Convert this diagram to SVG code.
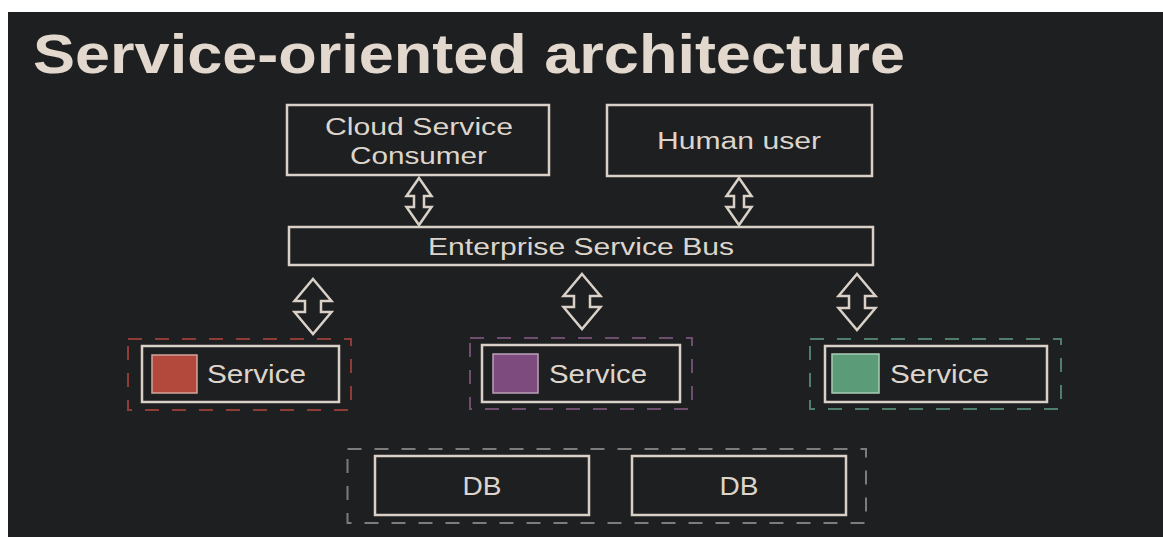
<svg xmlns="http://www.w3.org/2000/svg" width="1163" height="537" viewBox="0 0 1163 537">
<style>
.box{fill:none;stroke:#d9d1c7;stroke-width:2.5}
.arrow{fill:none;stroke:#d9d1c7;stroke-width:2.5;stroke-linejoin:miter}
.t{font-family:"Liberation Sans",Arial,sans-serif;fill:#ddd5cb}
.title{font-family:"Liberation Sans",Arial,sans-serif;font-weight:bold;fill:#e2d8cd}
.dash{fill:none;stroke-width:2;stroke-dasharray:14 13}
</style>
<rect x="0" y="0" width="1163" height="537" fill="#ffffff"/>
<rect x="8" y="12" width="1155" height="525" fill="#1e1f21"/>
<text class="title" x="33" y="73" font-size="55" textLength="872" lengthAdjust="spacingAndGlyphs">Service-oriented architecture</text>

<g id="cloud-consumer">
<rect class="box" x="287" y="105" width="262" height="70"/>
<text class="t" x="325" y="135" font-size="23" textLength="188" lengthAdjust="spacingAndGlyphs">Cloud Service</text>
<text class="t" x="350" y="164" font-size="23" textLength="137" lengthAdjust="spacingAndGlyphs">Consumer</text>
</g>
<g id="human-user">
<rect class="box" x="607" y="105" width="265" height="71"/>
<text class="t" x="657" y="149" font-size="23" textLength="164" lengthAdjust="spacingAndGlyphs">Human user</text>
</g>
<g id="esb">
<rect class="box" x="289" y="227" width="584" height="38"/>
<text class="t" x="428" y="255" font-size="23.5" textLength="306" lengthAdjust="spacingAndGlyphs">Enterprise Service Bus</text>
</g>

<g id="service-red">
<rect class="dash" stroke="#8f3b37" x="128" y="339" width="223" height="71" stroke-dasharray="13 9"/>
<rect class="box" x="142" y="346" width="197" height="56"/>
<rect x="152" y="355" width="45" height="38" fill="#b3493c" stroke="#d4a49b" stroke-width="1.5"/>
<text class="t" x="207" y="383" font-size="26" textLength="99" lengthAdjust="spacingAndGlyphs">Service</text>
</g>
<g id="service-purple">
<rect class="dash" stroke="#6e4d6e" x="470" y="338" width="222" height="71"/>
<rect class="box" x="482" y="345" width="198" height="57"/>
<rect x="493" y="354" width="45" height="39" fill="#7d4b7d" stroke="#b9a1b9" stroke-width="1.5"/>
<text class="t" x="549" y="383" font-size="26" textLength="98" lengthAdjust="spacingAndGlyphs">Service</text>
</g>
<g id="service-green">
<rect class="dash" stroke="#4f7e6a" x="810" y="339" width="251" height="70"/>
<rect class="box" x="825" y="346" width="222" height="56"/>
<rect x="832" y="354" width="47" height="39" fill="#5b9b78" stroke="#a9cbb6" stroke-width="1.5"/>
<text class="t" x="890" y="383" font-size="26" textLength="99" lengthAdjust="spacingAndGlyphs">Service</text>
</g>

<g id="db-group">
<rect class="dash" stroke="#7c7c7c" x="347.5" y="449" width="518.5" height="74" stroke-dasharray="15 14"/>
</g>
<g id="db1">
<rect class="box" x="375" y="456" width="214" height="59"/>
<text class="t" x="462.5" y="495" font-size="25" textLength="39" lengthAdjust="spacingAndGlyphs">DB</text>
</g>
<g id="db2">
<rect class="box" x="632" y="456" width="214" height="59"/>
<text class="t" x="719.5" y="495" font-size="25" textLength="39" lengthAdjust="spacingAndGlyphs">DB</text>
</g>

<g id="connectors">
<path class="arrow" d="M419,178 L431.5,196 L424,196 L424,207 L431.5,207 L419,225 L406.5,207 L414,207 L414,196 L406.5,196 Z"/>
<path class="arrow" d="M739,178 L751.5,196 L744,196 L744,207 L751.5,207 L739,225 L726.5,207 L734,207 L734,196 L726.5,196 Z"/>
<path class="arrow" d="M313,279 L331.5,301 L321,301 L321,312 L331.5,312 L313,334 L294.5,312 L305,312 L305,301 L294.5,301 Z"/>
<path class="arrow" d="M582,274 L600.5,296 L590,296 L590,307 L600.5,307 L582,329 L563.5,307 L574,307 L574,296 L563.5,296 Z"/>
<path class="arrow" d="M857,274 L875.5,296 L865,296 L865,308 L875.5,308 L857,330 L838.5,308 L849,308 L849,296 L838.5,296 Z"/>
</g>
</svg>
